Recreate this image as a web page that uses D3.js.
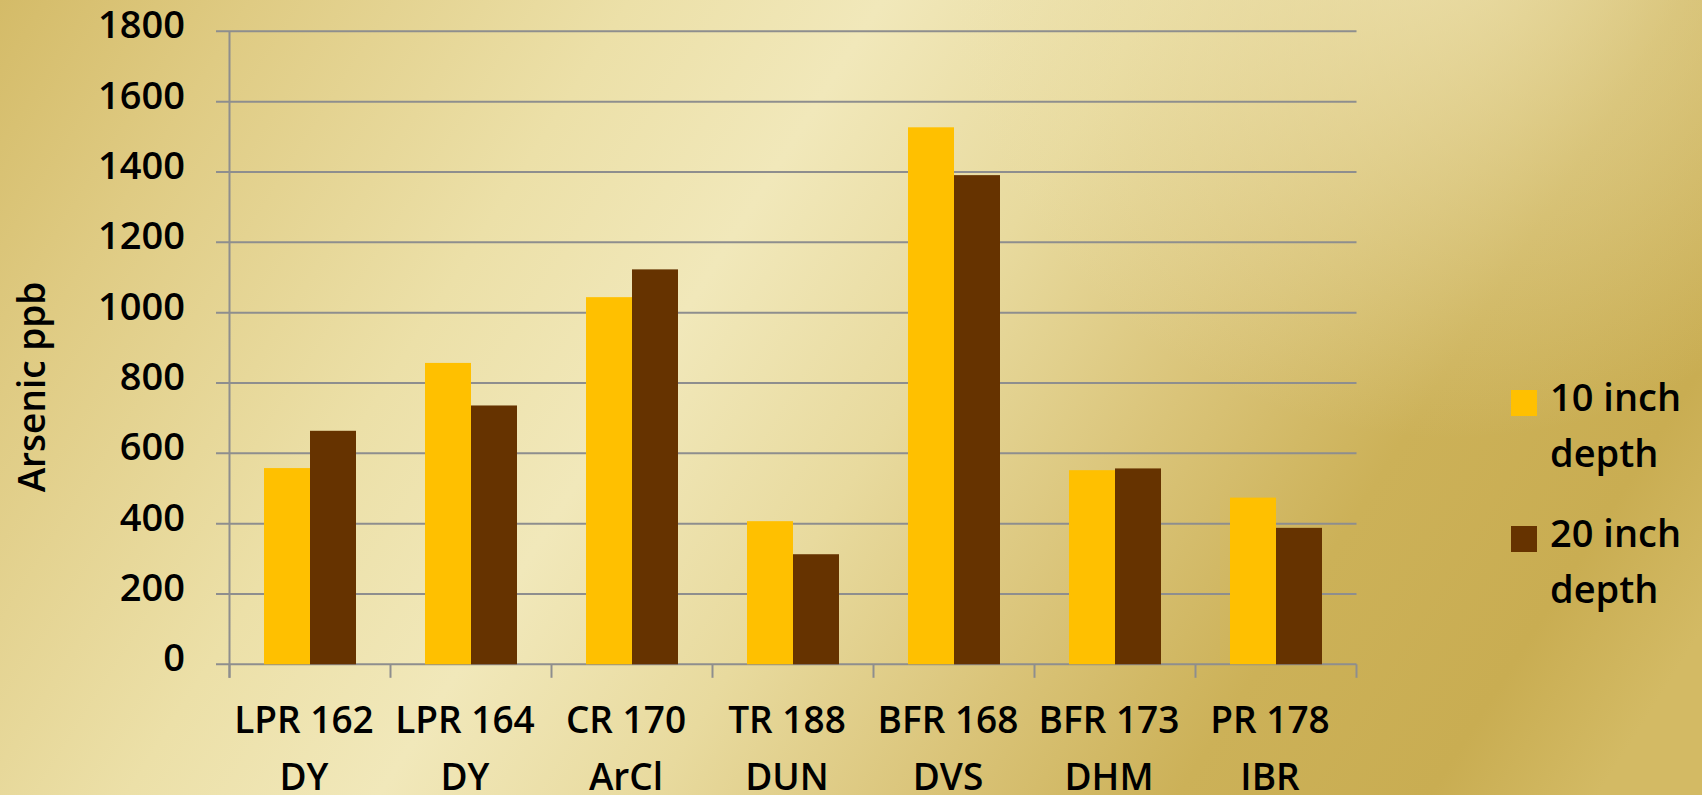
<!DOCTYPE html>
<html>
<head>
<meta charset="utf-8">
<script src="https://cdn.jsdelivr.net/npm/d3@7"></script>
<style>
html,body{margin:0;padding:0;overflow:hidden;}
svg{display:block;}
text{font-family:"Open Sans",sans-serif;font-weight:600;fill:#000;}
</style>
</head>
<body>
<svg id="chart" width="1702" height="795"></svg>
<script>
const categories = [["LPR 162","DY"],["LPR 164","DY"],["CR 170","ArCl"],["TR 188","DUN"],["BFR 168","DVS"],["BFR 173","DHM"],["PR 178","IBR"]];
const seriesNames = ["10 inch depth","20 inch depth"];
const depth10 = [558, 857, 1044, 407, 1527, 552, 474];
const depth20 = [664, 736, 1123, 313, 1391, 557, 388];
const yTicks = [0,200,400,600,800,1000,1200,1400,1600,1800];
const colors = ["#ffc000","#663300"];

(function(){
const W = 1702, H = 795;
const svg = d3.select("#chart");
const defs = svg.append("defs");

// background
const bg = defs.append("linearGradient").attr("id","bg")
  .attr("gradientUnits","userSpaceOnUse")
  .attr("x1",0).attr("y1",0).attr("x2",1500).attr("y2",950);
[[0,"#d4bb68"],[0.12,"#dfcb83"],[0.3,"#ece0a8"],[0.42,"#f1e8ba"],[0.55,"#e8da9e"],[0.68,"#dac479"],[0.8,"#ccb158"],[0.92,"#c9ad52"],[1,"#d3ba64"]]
  .forEach(s=>bg.append("stop").attr("offset",s[0]).attr("stop-color",s[1]));
svg.append("rect").attr("width",W).attr("height",H).attr("fill","url(#bg)");
const rg = defs.append("radialGradient").attr("id","tr")
  .attr("gradientUnits","userSpaceOnUse").attr("cx",1450).attr("cy",-80).attr("r",520);
rg.append("stop").attr("offset",0).attr("stop-color","#f0e6b6").attr("stop-opacity",0.75);
rg.append("stop").attr("offset",1).attr("stop-color","#f0e6b6").attr("stop-opacity",0);
svg.append("rect").attr("width",W).attr("height",H).attr("fill","url(#tr)");

const pL = 229.5, pR = 1356.5, pT = 31.3, pB = 664.3;

const x0 = d3.scaleBand().domain(d3.range(categories.length)).range([pL,pR]).padding(0);
const x1 = d3.scaleBand().domain([0,1]).range([0,x0.bandwidth()]).paddingInner(0).paddingOuter(0.75);
const y = d3.scaleLinear().domain([0,1800]).range([pB,pT]);

const gridColor = "#8e8e8e";

// gridlines
svg.append("g").selectAll("line").data(yTicks).join("line")
  .attr("x1",pL-13.5).attr("x2",pR)
  .attr("y1",d=>y(d)).attr("y2",d=>y(d))
  .attr("stroke",gridColor).attr("stroke-width",2);

// bars
const series = [depth10, depth20];
const g = svg.append("g");
series.forEach((vals,si)=>{
  g.selectAll(null).data(vals).join("rect")
    .attr("x",(d,i)=>x0(i)+x1(si))
    .attr("y",d=>y(d))
    .attr("width",x1.bandwidth())
    .attr("height",d=>pB-y(d))
    .attr("fill",colors[si]);
});

// y axis
const yAxis = d3.axisLeft(y).tickValues(yTicks).tickSize(13.5).tickPadding(31).tickFormat(d3.format("d"));
const ya = svg.append("g").attr("transform",`translate(${pL},0)`).call(yAxis);
ya.select(".domain").remove();
ya.selectAll(".tick line").remove();
ya.selectAll("text").attr("font-size",38).attr("dy","0.17em").style("font-family","'Open Sans',sans-serif").attr("font-weight",600).attr("fill","#000");
svg.append("line").attr("x1",pL).attr("x2",pL).attr("y1",pT).attr("y2",pB+13.5)
  .attr("stroke",gridColor).attr("stroke-width",2);

// x axis ticks
const bounds = x0.domain().map(i=>x0(i)).concat([x0.range()[1]]);
svg.append("g").selectAll("line").data(bounds).join("line")
  .attr("x1",d=>d).attr("x2",d=>d).attr("y1",pB).attr("y2",pB+13.5)
  .attr("stroke",gridColor).attr("stroke-width",2);

// x labels
const xl = svg.append("g").selectAll("text").data(categories).join("text")
  .attr("text-anchor","middle").attr("font-size",37)
  .attr("x",(d,i)=>x0(i)+x0.bandwidth()/2-6);
xl.selectAll("tspan").data(d=>d).join("tspan")
  .attr("x",function(){return this.parentNode.getAttribute("x");})
  .attr("y",(d,j)=>733+j*57)
  .text(d=>d);

// y title
svg.append("text").attr("transform","translate(45,387) rotate(-90)")
  .attr("text-anchor","middle").attr("font-size",37).text("Arsenic ppb");

// legend
const lg = svg.append("g");
seriesNames.forEach((name,i)=>{
  const oy = i*136;
  lg.append("rect").attr("x",1511).attr("y",390+oy).attr("width",26).attr("height",26).attr("fill",colors[i]);
  const parts = [name.split(" ").slice(0,2).join(" "), name.split(" ").slice(2).join(" ")];
  const t = lg.append("text").attr("font-size",38);
  parts.forEach((p,j)=>t.append("tspan").attr("x",1550).attr("y",411+oy+j*56).text(p));
});
})();
</script>
</body>
</html>
